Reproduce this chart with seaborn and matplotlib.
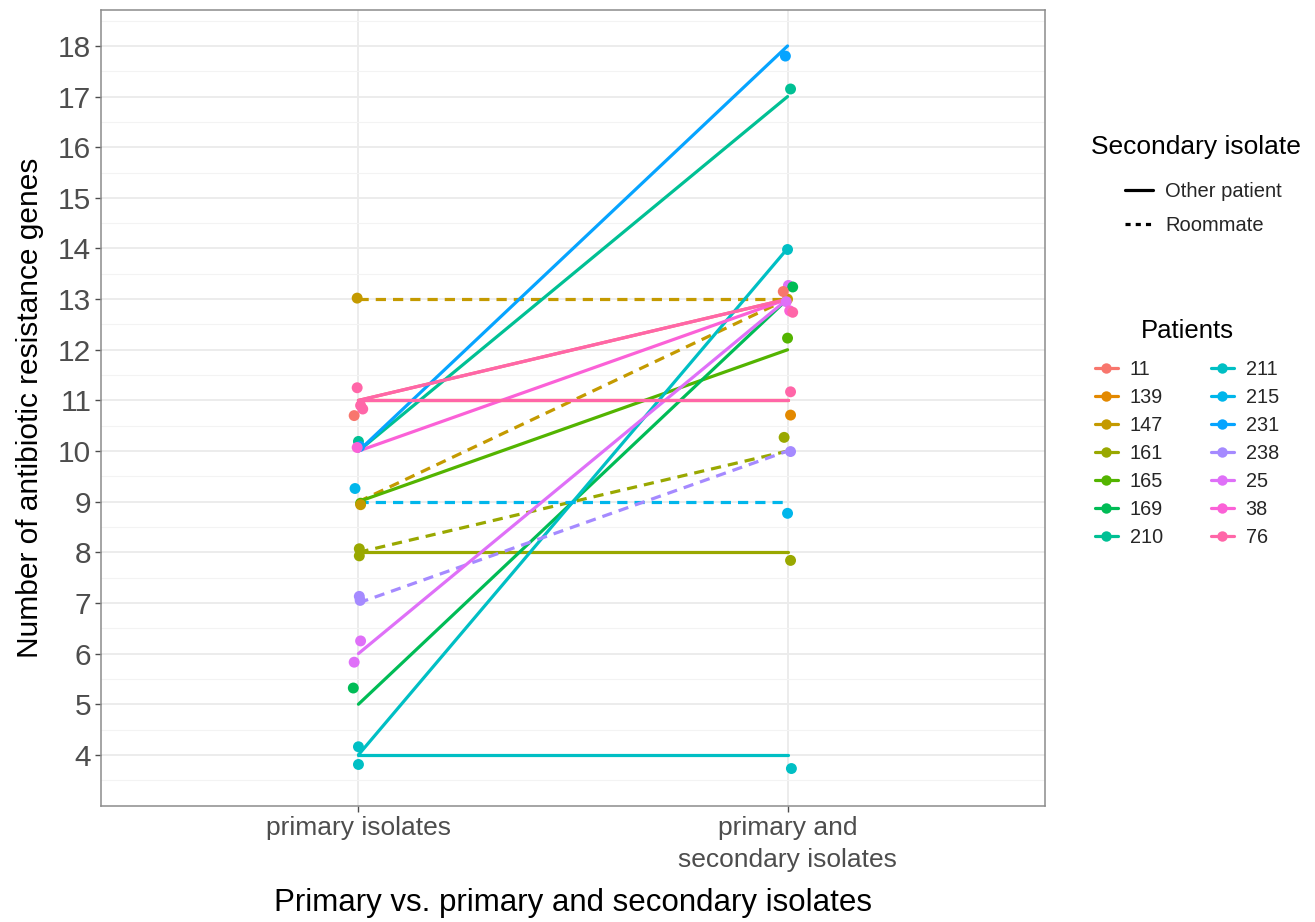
import matplotlib
matplotlib.use("Agg")
import matplotlib.pyplot as plt
from matplotlib.lines import Line2D
import numpy as np
import pandas as pd
import seaborn as sns

# ---- data -------------------------------------------------------------
categories = ["primary isolates", "primary and\nsecondary isolates"]
patients = ["11", "139", "147", "161", "165", "169", "210",
            "211", "215", "231", "238", "25", "38", "76"]
secondary_kinds = ["Other patient", "Roommate"]

# one line per isolate pair: patient, gene count (primary), gene count (primary + secondary), source
line_patient = ["11", "139", "147", "147", "161", "161", "165", "169", "210",
                "211", "211", "215", "231", "238", "25", "38", "76", "76"]
line_primary = [11, 11, 13, 9, 8, 8, 9, 5, 10, 4, 4, 9, 10, 7, 6, 10, 11, 11]
line_combined = [13, 11, 13, 13, 10, 8, 12, 13, 17, 14, 4, 9, 18, 10, 13, 13, 13, 11]
line_kind = ["Other patient", "Other patient", "Roommate", "Roommate", "Roommate",
             "Other patient", "Other patient", "Other patient", "Other patient",
             "Other patient", "Other patient", "Roommate", "Other patient", "Roommate",
             "Other patient", "Other patient", "Other patient", "Other patient"]

# jittered observations (category index 0 / 1)
pt_patient = ["147", "76", "76", "76", "11", "210", "231", "38", "215", "165", "147",
              "161", "161", "238", "238", "25", "25", "169", "211", "211",
              "231", "210", "211", "147", "25", "169", "11", "25", "38", "76",
              "165", "76", "139", "161", "238", "215", "161", "211"]
pt_category = [0] * 20 + [1] * 18
pt_value = [13.02, 11.25, 10.90, 10.83, 10.70, 10.19, 10.09, 10.07, 9.26, 8.97, 8.94,
            8.07, 7.93, 7.13, 7.05, 6.25, 5.83, 5.32, 4.16, 3.81,
            17.80, 17.15, 13.98, 13.00, 13.27, 13.24, 13.15, 12.95, 12.77, 12.74,
            12.23, 11.17, 10.71, 10.27, 9.99, 8.77, 7.84, 3.73]
pt_jitter = [-0.003, -0.003, 0.005, 0.010, -0.010, 0.000, 0.003, -0.003, -0.008, 0.005,
             0.005, 0.002, 0.002, 0.002, 0.004, 0.005, -0.010, -0.012, 0.000, 0.000,
             -0.005, 0.007, 0.000, 0.000, 0.002, 0.012, -0.010, -0.003, 0.005, 0.012,
             0.000, 0.007, 0.007, -0.008, 0.007, 0.000, 0.007, 0.009]

# ---- styling ----------------------------------------------------------
sns.set_theme(style="white")
plt.rcParams["font.family"] = ["Liberation Sans", "DejaVu Sans"]

palette_hex = ["#F8766D", "#E38900", "#C49A00", "#99A800", "#53B400", "#00BC56",
               "#00C094", "#00BFC4", "#00B6EB", "#06A4FF", "#A58AFF", "#DF70F8",
               "#FB61D7", "#FF66A8"]
palette = dict(zip(patients, palette_hex))

# long tables for seaborn
rows = []
for i, (p, a, b, k) in enumerate(zip(line_patient, line_primary, line_combined, line_kind)):
    rows.append({"pair": i, "patient": p, "kind": k, "x": 0, "y": a})
    rows.append({"pair": i, "patient": p, "kind": k, "x": 1, "y": b})
lines_df = pd.DataFrame(rows)

pts_df = pd.DataFrame({
    "patient": pt_patient,
    "x": np.array(pt_category) + np.array(pt_jitter),
    "y": pt_value,
})

W, H = 1315, 922
fig = plt.figure(figsize=(W / 100, H / 100), dpi=100)
ax = fig.add_axes([101 / W, 116 / H, 944 / W, 796 / H])
ax.set_facecolor("white")

sns.lineplot(data=lines_df, x="x", y="y", hue="patient", style="kind",
             units="pair", estimator=None, sort=False,
             hue_order=patients, style_order=secondary_kinds,
             palette=palette,
             dashes={"Other patient": "", "Roommate": (3.2, 2.2)},
             linewidth=2.3, legend=False, ax=ax, zorder=3)

sns.scatterplot(data=pts_df, x="x", y="y", hue="patient", hue_order=patients,
                palette=palette, s=62, linewidth=0, legend=False, ax=ax, zorder=4)

# axes
ax.set_xlim(-0.6, 1.6)
ax.set_ylim(2.99, 18.71)
ax.set_xticks([0, 1])
ax.set_xticklabels(categories, linespacing=1.45)
ax.set_yticks(range(4, 19))
ax.set_yticks(np.arange(3.5, 18.6, 1.0), minor=True)

ax.grid(True, which="major", color="#EBEBEB", linewidth=1.3)
ax.grid(True, which="minor", axis="y", color="#F3F3F3", linewidth=0.8)
ax.set_axisbelow(True)
for s in ax.spines.values():
    s.set_color("#8C8C8C")
    s.set_linewidth(1.1)

ax.tick_params(axis="both", which="major", direction="out", length=4, width=1.0,
               color="#4D4D4D", labelcolor="#4D4D4D", labelsize=21.5,
               left=True, bottom=True, pad=3)
ax.tick_params(axis="y", which="minor", length=0)
ax.tick_params(axis="x", labelsize=19, pad=3)

ax.set_xlabel("Primary vs. primary and secondary isolates", fontsize=22.5,
              color="black", labelpad=11)
ax.set_ylabel("Number of antibiotic resistance genes", fontsize=21.5,
              color="black", labelpad=10)

# legend: secondary isolate
fig.text(1091 / W, 1 - 147 / H, "Secondary isolate", fontsize=19,
         ha="left", va="center", color="black")
kind_handles = [Line2D([], [], color="black", lw=2.3, linestyle="-"),
                Line2D([], [], color="black", lw=2.3, linestyle=(0, (1.6, 1.6)))]
leg1 = fig.legend(kind_handles, secondary_kinds, loc="upper left",
                  bbox_to_anchor=(1125 / W, 1 - 182 / H), frameon=False,
                  fontsize=14.5, handlelength=1.4, handletextpad=0.6,
                  labelspacing=0.75, borderpad=0, borderaxespad=0)

# legend: patients
fig.text(1187 / W, 1 - 331 / H, "Patients", fontsize=18.5,
         ha="center", va="center", color="black")
pat_handles = [Line2D([], [], color=palette[p], lw=2.3, marker="o",
                      markersize=7.5, markeredgewidth=0) for p in patients]
leg2 = fig.legend(pat_handles, patients, loc="upper left", ncol=2,
                  bbox_to_anchor=(1095 / W, 1 - 360 / H), frameon=False,
                  fontsize=14.3, handlelength=1.15, handletextpad=0.6,
                  labelspacing=0.45, columnspacing=2.4, borderpad=0,
                  borderaxespad=0)

fig.savefig("out.png", dpi=100, facecolor="white")
